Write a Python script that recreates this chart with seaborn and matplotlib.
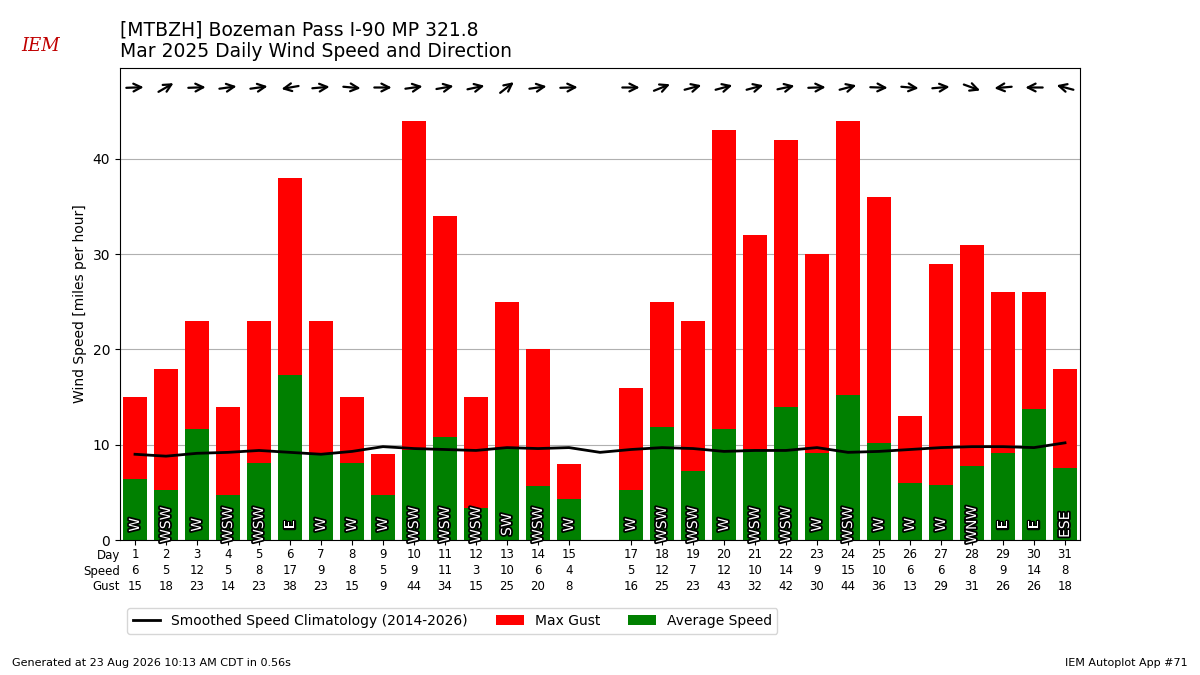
import numpy as np
import pandas as pd
import seaborn as sns
import matplotlib.pyplot as plt
import matplotlib.patheffects as pe
import matplotlib.transforms as mtransforms

days = [1, 2, 3, 4, 5, 6, 7, 8, 9, 10, 11, 12, 13, 14, 15,
        17, 18, 19, 20, 21, 22, 23, 24, 25, 26, 27, 28, 29, 30, 31]
avg_speed = [6.4, 5.3, 11.7, 4.7, 8.1, 17.3, 9.1, 8.1, 4.7, 9.4, 10.8, 3.4, 9.7, 5.7, 4.3,
             5.3, 11.9, 7.2, 11.7, 9.6, 14.0, 9.1, 15.2, 10.2, 6.0, 5.8, 7.8, 9.1, 13.7, 7.6]
max_gust = [15, 18, 23, 14, 23, 38, 23, 15, 9, 44, 34, 15, 25, 20, 8,
            16, 25, 23, 43, 32, 42, 30, 44, 36, 13, 29, 31, 26, 26, 18]
dir_label = ["W", "WSW", "W", "WSW", "WSW", "E", "W", "W", "W", "WSW", "WSW", "WSW", "SW", "WSW", "W",
             "W", "WSW", "WSW", "W", "WSW", "WSW", "W", "WSW", "W", "W", "W", "WNW", "E", "E", "ESE"]
dir_deg = [268, 240, 268, 262, 262, 80, 265, 275, 270, 262, 260, 258, 232, 262, 268,
           270, 248, 255, 255, 255, 258, 268, 255, 272, 275, 265, 290, 85, 90, 105]
clim_days = list(range(1, 32))
clim_speed = [9.0, 8.8, 9.1, 9.2, 9.4, 9.2, 9.0, 9.3, 9.8, 9.6, 9.5, 9.4, 9.7, 9.6, 9.7, 9.2,
              9.5, 9.7, 9.6, 9.3, 9.4, 9.4, 9.7, 9.2, 9.3, 9.5, 9.7, 9.8, 9.8, 9.7, 10.2]

df = pd.DataFrame({"day": days, "avg": avg_speed, "gust": max_gust})

fig = plt.figure(figsize=(12, 6.75), dpi=100)
ax = fig.add_axes([0.1, 0.2, 0.8, 0.7])

sns.barplot(data=df, x="day", y="gust", native_scale=True, color="red", saturation=1,
            width=0.8, ax=ax, label="Max Gust")
sns.barplot(data=df, x="day", y="avg", native_scale=True, color="green", saturation=1,
            width=0.8, ax=ax, label="Average Speed")
sns.lineplot(x=clim_days, y=clim_speed, color="black", lw=2, ax=ax,
             label="Smoothed Speed Climatology (2014-2026)")

for d, lab, deg in zip(days, dir_label, dir_deg):
    ax.text(d, 1.6, lab, rotation=90, ha="center", va="center", color="white", fontsize=10,
            path_effects=[pe.withStroke(linewidth=2.5, foreground="black")])
    ang = np.deg2rad(-90 - deg)
    dx, dy = 0.28 * np.cos(ang), 0.28 * np.sin(ang) * 31 / 9.525
    ax.annotate("", xy=(d + dx, 47.5 + dy), xytext=(d - dx, 47.5 - dy),
                arrowprops=dict(arrowstyle="->", lw=1.6, color="black", mutation_scale=14,
                                shrinkA=0, shrinkB=0))

ax.set_xlim(1 - 15 / 31, 31 + 15 / 31)
ax.set_ylim(0, 49.6)
ax.set_xticks(days)
ax.set_xticklabels([])
ax.set_xlabel("")
ax.set_ylabel("Wind Speed [miles per hour]")
ax.yaxis.grid(True, color="#b0b0b0")
ax.set_axisbelow(True)

trans = mtransforms.blended_transform_factory(ax.transData, fig.transFigure)
for i, name in enumerate(["Day", "Speed", "Gust"]):
    y = 1 - (555 + 16 * i) / 675
    fig.text(0.1, y, name, ha="right", va="center", fontsize=8.5)
    vals = days if i == 0 else ([round(v) for v in avg_speed] if i == 1 else max_gust)
    for d, v in zip(days, vals):
        ax.text(d, y, str(v), transform=trans, ha="center", va="center", fontsize=8.5)

h, l = ax.get_legend_handles_labels()
order = [l.index("Smoothed Speed Climatology (2014-2026)"), l.index("Max Gust"), l.index("Average Speed")]
ax.legend([h[k] for k in order], [l[k] for k in order], ncol=3, loc="center left",
          bbox_to_anchor=(0.1, 1 - 621 / 675), bbox_transform=fig.transFigure, fontsize=10)

fig.text(0.1, 0.94, "[MTBZH] Bozeman Pass I-90 MP 321.8\nMar 2025 Daily Wind Speed and Direction",
         fontsize=13.5, va="center")
fig.text(0.018, 0.925, "IEM", color="#c00000", fontsize=13, style="italic", family="serif")
fig.text(0.01, 0.013, "Generated at 23 Aug 2026 10:13 AM CDT in 0.56s", fontsize=8)
fig.text(0.99, 0.013, "IEM Autoplot App #71", fontsize=8, ha="right")

fig.savefig("out.png", dpi=100)
